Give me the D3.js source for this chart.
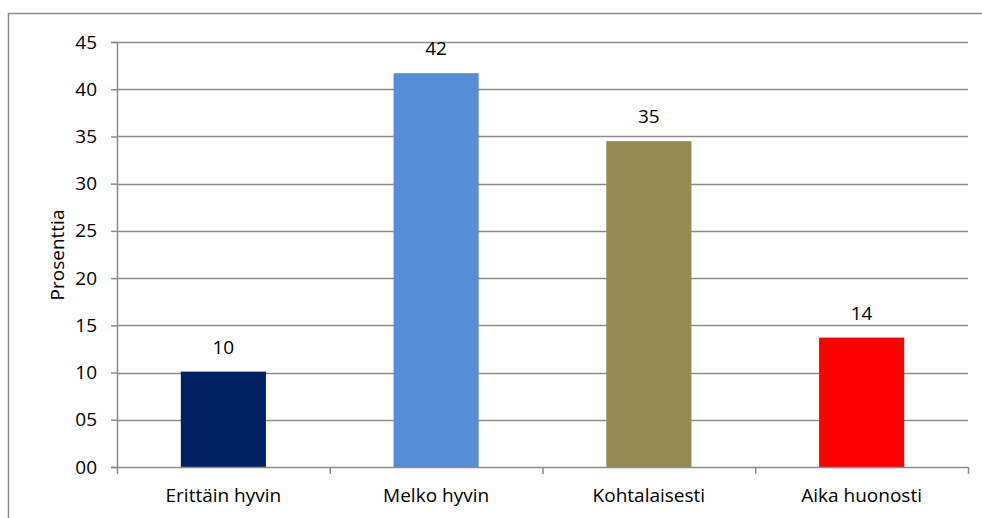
<!DOCTYPE html>
<html>
<head>
<meta charset="utf-8">
<script src="https://cdn.jsdelivr.net/npm/d3@7"></script>
<style>
  body { margin: 0; background: #fff; }
  text { font-family: "Open Sans", "Liberation Sans", sans-serif; fill: #000; }
</style>
</head>
<body>
<div id="chart"></div>
<script>
// data
var categories = ["Erittäin hyvin", "Melko hyvin", "Kohtalaisesti", "Aika huonosti"];
var values = [10.1, 41.7, 34.5, 13.7];
var valueLabels = ["10", "42", "35", "14"];
var colors = ["#002060", "#558ED5", "#948A54", "#FF0000"];
var yTicks = [0, 5, 10, 15, 20, 25, 30, 35, 40, 45];

var W = 982, H = 518;
var plot = {left: 117, right: 968, top: 42, bottom: 467};
var fs = "19px";

var svg = d3.select("#chart").append("svg")
    .attr("width", W)
    .attr("height", H);

// chart frame
svg.append("rect")
    .attr("x", 8.5).attr("y", 13.5)
    .attr("width", 990).attr("height", 520)
    .style("fill", "none")
    .style("stroke", "#8c8c8c")
    .style("stroke-width", 1.5);

var x = d3.scaleBand()
    .domain(categories)
    .range([plot.left, plot.right])
    .paddingInner(0.6)
    .paddingOuter(0.3);

var xOuter = d3.scaleBand()
    .domain(categories)
    .range([plot.left, plot.right]);

var y = d3.scaleLinear()
    .domain([0, 45])
    .range([plot.bottom, plot.top]);

// gridlines
svg.append("g").selectAll("line.grid")
    .data(yTicks.slice(1))
    .enter().append("line")
    .attr("x1", plot.left).attr("x2", plot.right)
    .attr("y1", function(d){ return Math.round(y(d)) + 0.5; })
    .attr("y2", function(d){ return Math.round(y(d)) + 0.5; })
    .style("stroke", "#8c8c8c")
    .style("stroke-width", 1.5);

// y axis
var yAxis = d3.axisLeft(y)
    .tickValues(yTicks)
    .tickSize(6)
    .tickPadding(14)
    .tickFormat(d3.format("02d"));

var gy = svg.append("g")
    .attr("transform", "translate(" + plot.left + ",0)")
    .call(yAxis);
gy.attr("font-size", null).attr("font-family", null);
gy.select(".domain").style("stroke", "#8c8c8c").style("stroke-width", 1.5);
gy.selectAll(".tick line").style("stroke", "#8c8c8c").style("stroke-width", 1.5);
gy.selectAll(".tick text")
    .style("font-size", fs)
    .style("fill", "#000");

// bars
svg.append("g").selectAll("rect.bar")
    .data(values)
    .enter().append("rect")
    .attr("class", "bar")
    .attr("x", function(d, i){ return x(categories[i]); })
    .attr("width", x.bandwidth())
    .attr("y", function(d){ return y(d); })
    .attr("height", function(d){ return y(0) - y(d); })
    .style("fill", function(d, i){ return colors[i]; });

// x axis
var gx = svg.append("g")
    .attr("transform", "translate(0," + plot.bottom + ")");
gx.append("line")
    .attr("x1", plot.left).attr("x2", plot.right)
    .attr("y1", 0.5).attr("y2", 0.5)
    .style("stroke", "#8c8c8c").style("stroke-width", 1.5);
var xTickPos = categories.map(function(c){ return xOuter(c); }).concat([plot.right]);
gx.selectAll("line.xtick")
    .data(xTickPos)
    .enter().append("line")
    .attr("x1", function(d){ return d + 0.5; })
    .attr("x2", function(d){ return d + 0.5; })
    .attr("y1", 0).attr("y2", 7)
    .style("stroke", "#8c8c8c").style("stroke-width", 1.5);
gx.selectAll("text")
    .data(categories)
    .enter().append("text")
    .attr("x", function(d){ return xOuter(d) + xOuter.bandwidth() / 2; })
    .attr("y", 35)
    .style("text-anchor", "middle")
    .style("font-size", fs)
    .text(function(d){ return d; });

// value labels
svg.append("g").selectAll("text")
    .data(values)
    .enter().append("text")
    .attr("x", function(d, i){ return x(categories[i]) + x.bandwidth() / 2; })
    .attr("y", function(d){ return y(d) - 18; })
    .style("text-anchor", "middle")
    .style("font-size", fs)
    .text(function(d, i){ return valueLabels[i]; });

// y axis title
svg.append("text")
    .attr("transform", "translate(64,255) rotate(-90)")
    .style("text-anchor", "middle")
    .style("font-size", fs)
    .text("Prosenttia");
</script>
</body>
</html>
